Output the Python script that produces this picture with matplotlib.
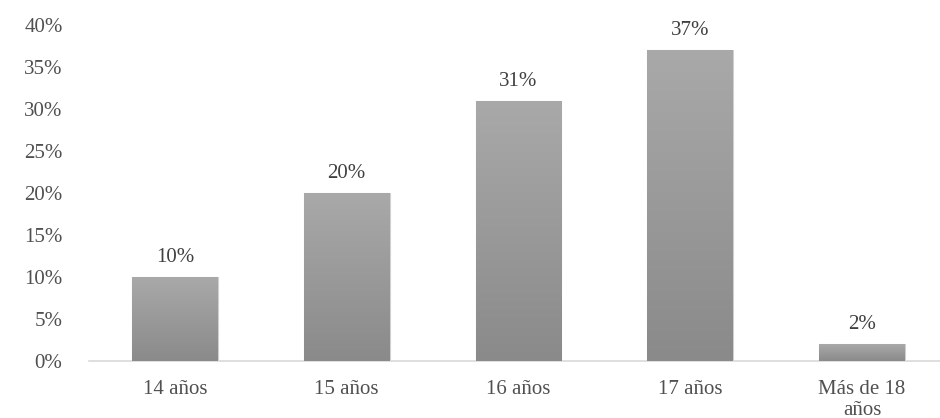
import numpy as np
import matplotlib.pyplot as plt
from matplotlib.colors import LinearSegmentedColormap

categories = ['14 años', '15 años', '16 años', '17 años', 'Más de 18\naños']
values = [10, 20, 31, 37, 2]
yticks = [0, 5, 10, 15, 20, 25, 30, 35, 40]

plt.rcParams['font.family'] = ['Liberation Serif', 'DejaVu Serif']

fig = plt.figure(figsize=(9.4, 4.18), dpi=100)
ax = fig.add_axes([89 / 940, 57 / 418, 859 / 940, 336 / 418])

x = np.arange(len(categories))
bars = ax.bar(x, values, width=0.5, color='#999999', zorder=2)

# soft vertical gradient on each bar, like the original office chart
cmap = LinearSegmentedColormap.from_list('g', ['#8a8a8a', '#a9a9a9'])
grad = np.linspace(0, 1, 256).reshape(-1, 1)
for b in bars:
    x0, w, h = b.get_x(), b.get_width(), b.get_height()
    im = ax.imshow(grad, cmap=cmap, origin='lower', aspect='auto',
                   extent=[x0, x0 + w, 0, h], zorder=3)
    im.set_clip_path(b)
    b.set_edgecolor('#d0d0d0')
    b.set_linewidth(0.8)

for xi, v in zip(x, values):
    ax.text(xi, v + 1.2, f'{v}%', ha='center', va='bottom',
            fontsize=15, color='#404040')

ax.set_xlim(-0.5, len(categories) - 0.5)
ax.set_ylim(0, 40)
ax.set_yticks(yticks)
ax.set_yticklabels([f'{t}%' for t in yticks])
ax.set_xticks(x)
ax.set_xticklabels(categories, linespacing=1.1)

ax.tick_params(axis='both', length=0, labelsize=15, labelcolor='#505050')
ax.tick_params(axis='y', pad=19)
ax.tick_params(axis='x', pad=14)
for s in ['top', 'right', 'left']:
    ax.spines[s].set_visible(False)
ax.spines['bottom'].set_color('#d9d9d9')
ax.spines['bottom'].set_linewidth(1.2)

fig.savefig('out.png', dpi=100)
